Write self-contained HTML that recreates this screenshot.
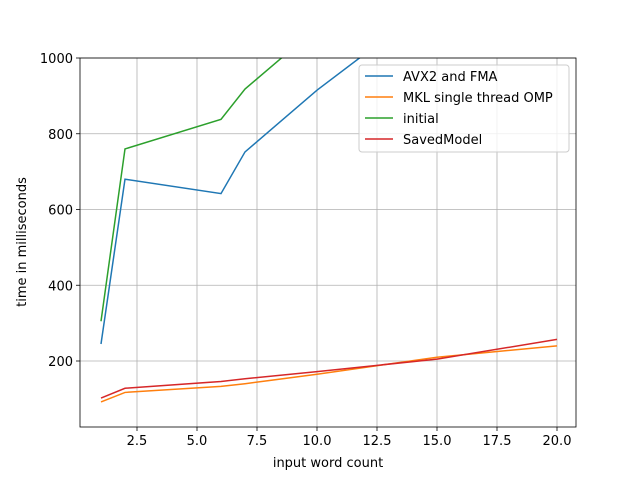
<!DOCTYPE html>
<html><head><meta charset="utf-8"><style>
body{margin:0;background:#fff;font-family:"Liberation Sans","DejaVu Sans",sans-serif}
svg text{font-family:"DejaVu Sans","Liberation Sans",sans-serif;font-size:13px;fill:#000}
</style></head><body>
<svg id="c" width="640" height="480"></svg>
<script>
const xs=[1,2,6,7,10,15,20];
const avx=[245,680,642,752,915,1155,1350];
const mkl=[92,117,133,140,165,210,240];
const initial=[305,760,838,918,1080,1300,1500];
const saved=[102,128,146,153,172,205,257];
const xTicks=[2.5,5.0,7.5,10.0,12.5,15.0,17.5,20.0];
const yTicks=[200,400,600,800,1000];
const seriesNames=["AVX2 and FMA","MKL single thread OMP","initial","SavedModel"];
const colors=["#1f77b4","#ff7f0e","#2ca02c","#d62728"];
const L=80,R=576,T=58,B=427;
const X=v=>137+(v-2.5)*24;
const Y=v=>361-(v-200)*(303/800);
const svg=document.getElementById('c');
const NS='http://www.w3.org/2000/svg';
function mk(t,a,p){const e=document.createElementNS(NS,t);for(const k in a)e.setAttribute(k,a[k]);(p||svg).appendChild(e);return e;}
const defs=mk('defs',{});const cp=mk('clipPath',{id:'cp'},defs);mk('rect',{x:L,y:T,width:R-L,height:B-T},cp);
xTicks.forEach(t=>{
const g=mk('line',{x1:X(t),x2:X(t),y1:T,y2:B,stroke:'#b0b0b0','stroke-width':0.8});

mk('line',{x1:X(t),x2:X(t),y1:B,y2:B+4,stroke:'#000','stroke-width':0.8});
const tx=mk('text',{x:X(t),y:B+18,'text-anchor':'middle'});tx.textContent=t.toFixed(1);

});
yTicks.forEach(t=>{
const g=mk('line',{x1:L,x2:R,y1:Y(t),y2:Y(t),stroke:'#b0b0b0','stroke-width':0.8});

mk('line',{x1:L-4,x2:L,y1:Y(t),y2:Y(t),stroke:'#000','stroke-width':0.8});
const tx=mk('text',{x:L-7,y:Y(t)+5,'text-anchor':'end'});tx.textContent=t;

});
[avx,mkl,initial,saved].forEach((s,i)=>{
const p=mk('polyline',{points:xs.map((x,j)=>X(x)+','+Y(s[j])).join(' '),fill:'none',stroke:colors[i],'stroke-width':1.5,'clip-path':'url(#cp)'});

});
const fr=mk('rect',{x:L,y:T,width:R-L,height:B-T,fill:'none',stroke:'#000','stroke-width':0.8});

const xl=mk('text',{x:(L+R)/2,y:467,'text-anchor':'middle'});xl.textContent='input word count';

const yl=mk('text',{x:0,y:0,'text-anchor':'middle',transform:'translate(26,242) rotate(-90)'});yl.textContent='time in milliseconds';

const lg=mk('g',{});
mk('rect',{x:359,y:65,width:210,height:87,rx:3,fill:'#fff','fill-opacity':0.8,stroke:'#ccc'},lg);
seriesNames.forEach((n,i)=>{
const y=76+i*21;
const e=mk('g',{},lg);
mk('line',{x1:365,x2:393,y1:y,y2:y,stroke:colors[i],'stroke-width':1.5},e);
const t=mk('text',{x:403,y:y+5},e);t.textContent=n;
});
</script>
</body></html>
